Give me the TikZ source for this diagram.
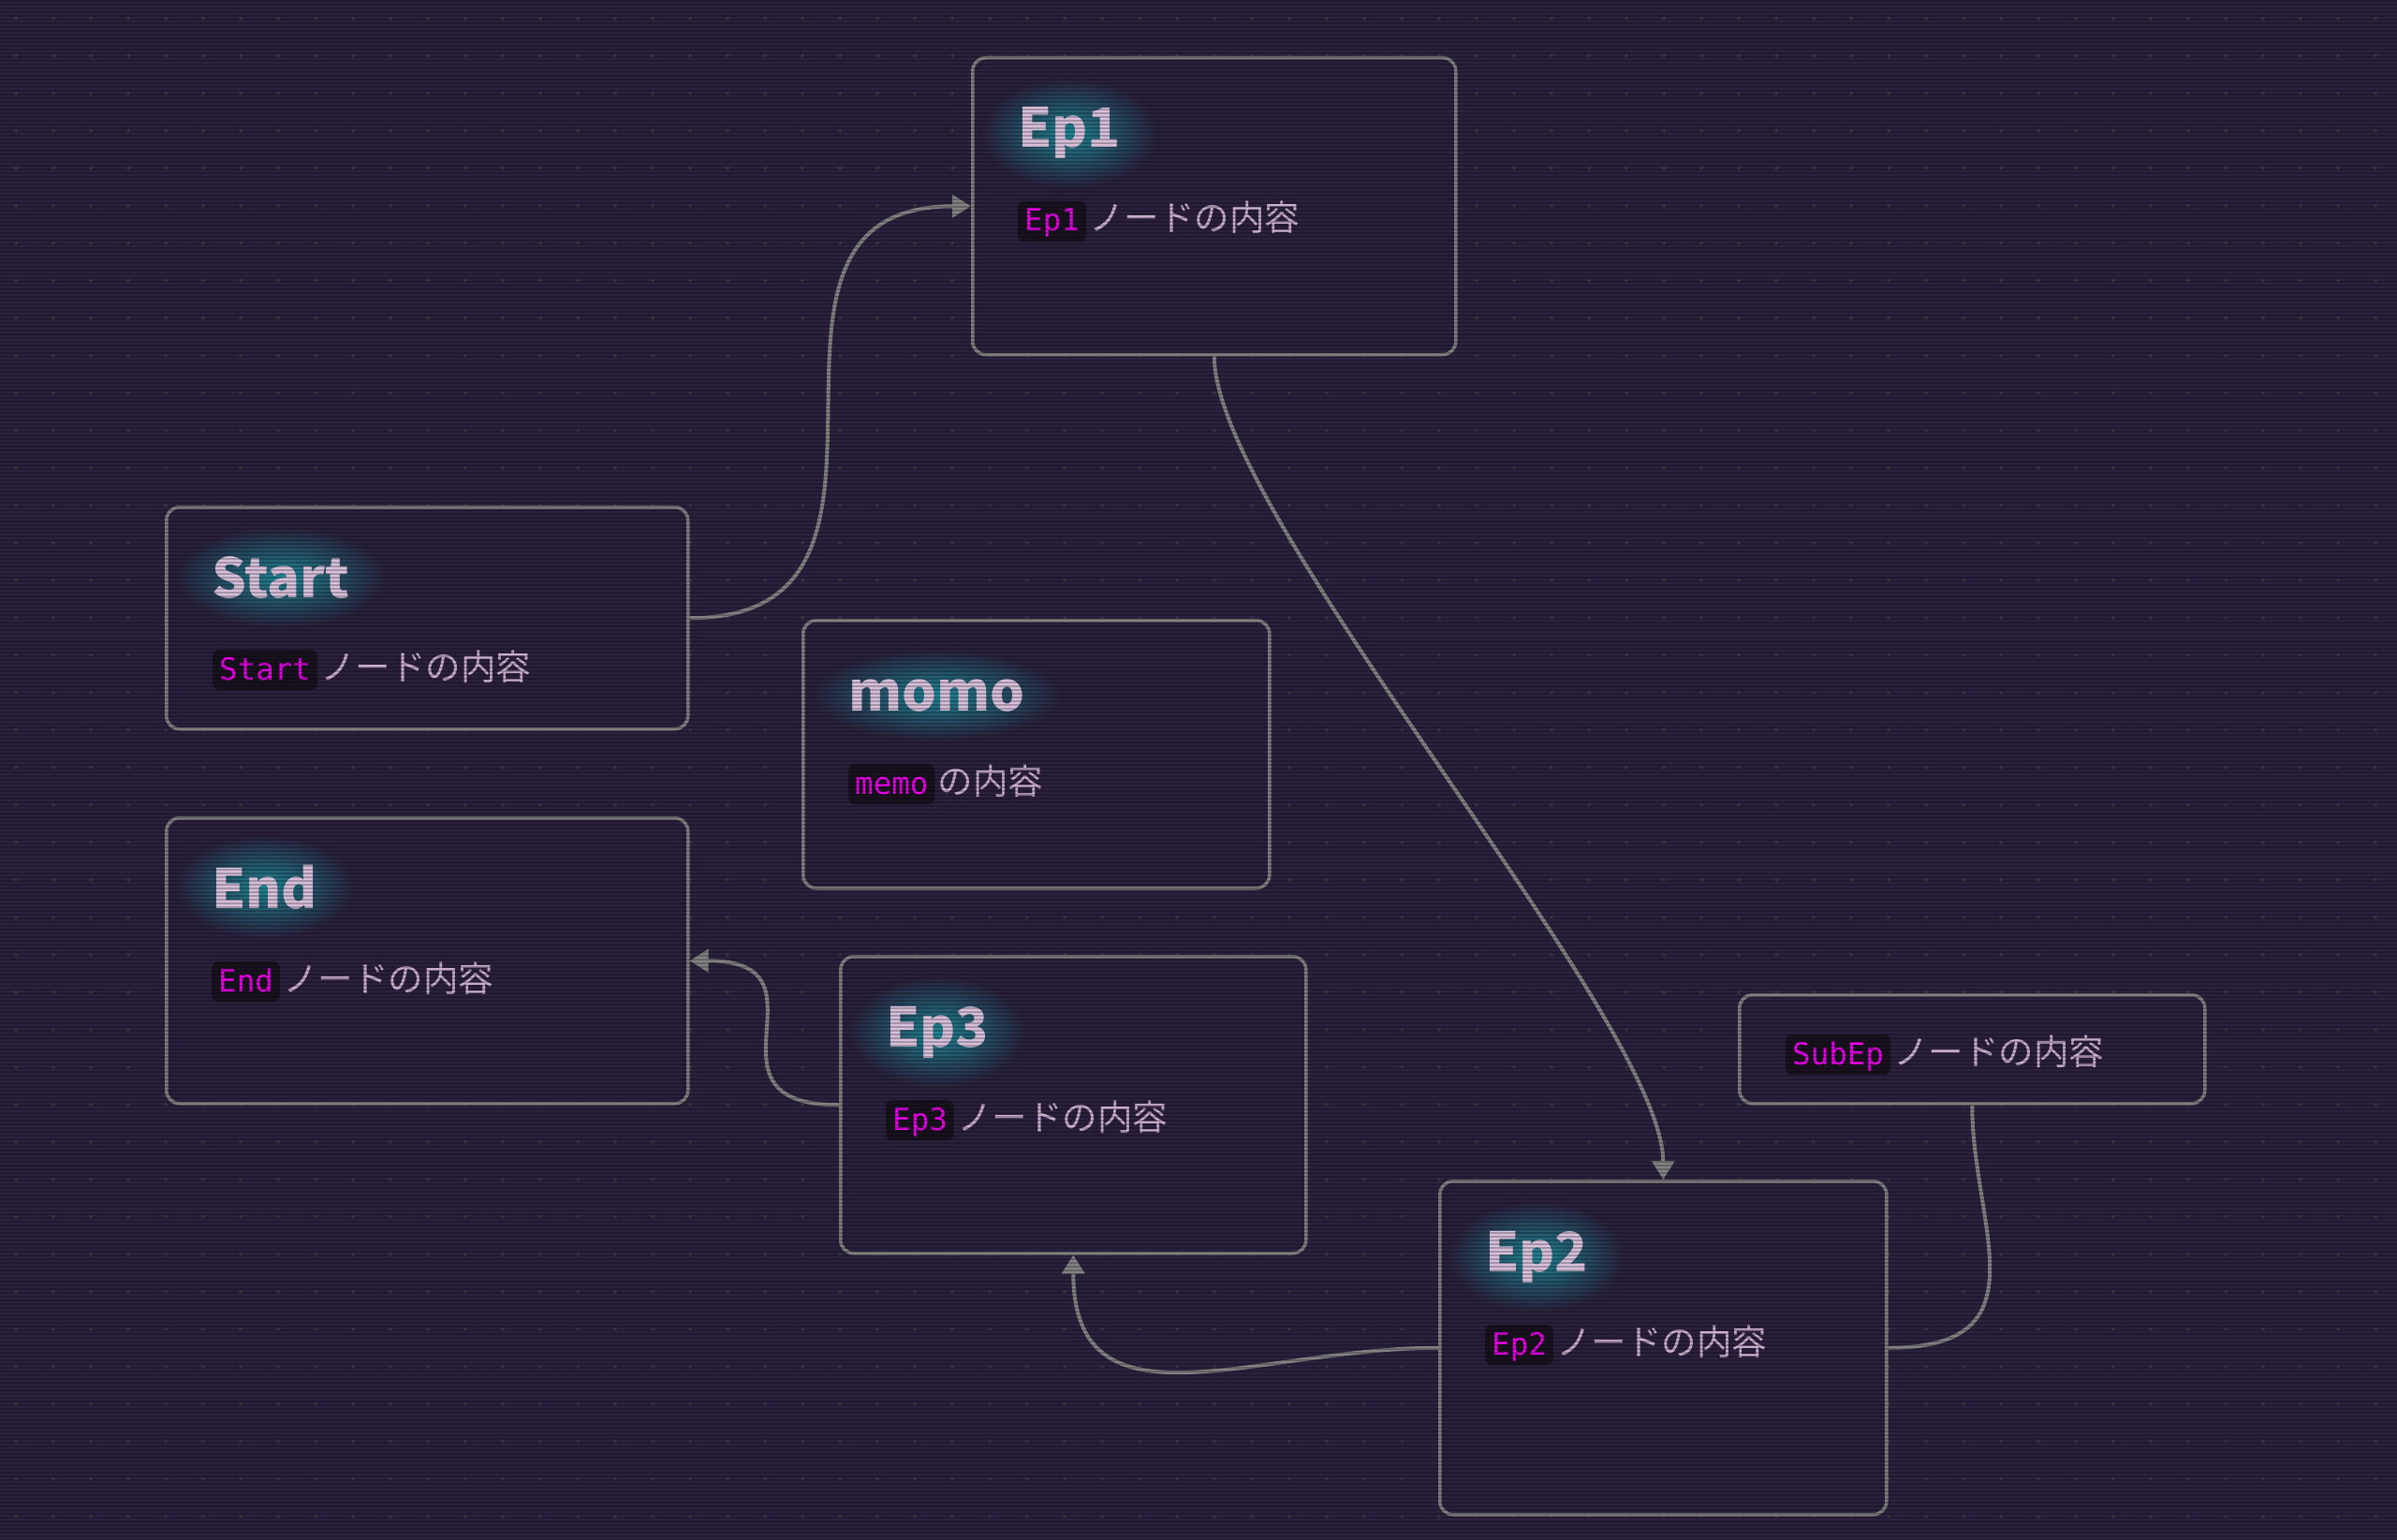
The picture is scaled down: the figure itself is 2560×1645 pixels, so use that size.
\documentclass[tikz,border=0pt]{standalone}
\usepackage{fontspec}
\setmainfont{Noto Sans CJK JP}
\newfontfamily\codefont{DejaVu Sans Mono}
\usetikzlibrary{arrows.meta,calc,fadings}
\definecolor{bgc}{HTML}{2D2240}
\definecolor{boxfill}{HTML}{2C213E}
\definecolor{edgec}{HTML}{828282}
\definecolor{linec}{HTML}{858585}
\definecolor{titlec}{HTML}{DCC4DE}
\definecolor{bodyc}{HTML}{CFB2D2}
\definecolor{codec}{HTML}{F600F6}
\definecolor{codebg}{HTML}{19121F}
\definecolor{glowc}{HTML}{1F95A3}
\definecolor{dotc}{HTML}{403E44}
\pgfdeclarelayer{back}
\pgfdeclarelayer{glowlayer}
\pgfdeclarelayer{scan}
\pgfsetlayers{back,glowlayer,main,scan}
\tikzfading[name=glowfade, inner color=transparent!0, outer color=transparent!100]
\tikzset{
  card/.style={draw=edgec, line width=3.5pt, fill=boxfill, rounded corners=14pt, inner sep=0pt, anchor=north west},
  cardtitle/.style={text=titlec, font=\fontsize{58}{58}\selectfont\bfseries, inner sep=0pt, anchor=base west},
  tag/.style={text=codec, fill=codebg, rounded corners=7pt, font=\codefont\fontsize{32.5}{32.5}\selectfont, inner xsep=7pt, inner ysep=5pt, text height=27pt, text depth=6pt, anchor=base west},
  bodytext/.style={text=bodyc, font=\fontsize{37.5}{37.5}\selectfont, inner sep=0pt, anchor=base west},
  conn/.style={draw=linec, line width=4pt},
  arr/.style={conn, -{Triangle[width=24pt,length=20pt]}}
}
\newcommand\glowat[1]{%
  \begin{pgfonlayer}{glowlayer}
  \fill[glowc, opacity=0.9, path fading=glowfade] let \p1=($(#1.north east)-(#1.south west)$) in (#1.center) ellipse ({abs(\x1)/2+40pt} and {abs(\y1)/2+32pt});
  \end{pgfonlayer}}
\begin{document}
\begin{tikzpicture}[x=1pt,y=-1pt]
\useasboundingbox (0,0) rectangle (2560,1645);
\begin{pgfonlayer}{back}
\fill[bgc] (0,0) rectangle (2560,1645);
\fill[dotc] \foreach \i in {0,...,63}{\foreach \j in {0,...,40}{({15.5+40*\i},{18.5+40*\j}) rectangle ++(3,3)}};
\node[card, minimum width=516pt, minimum height=317pt] (ep1) at (1037,60) {};
\node[card, minimum width=557pt, minimum height=237pt] (start) at (176,540) {};
\node[card, minimum width=498pt, minimum height=286pt] (momo) at (856,661) {};
\node[card, minimum width=557pt, minimum height=305pt] (end) at (176,872) {};
\node[card, minimum width=497pt, minimum height=317pt] (ep3) at (896,1020) {};
\node[card, minimum width=497pt, minimum height=116pt] (subep) at (1856,1061) {};
\node[card, minimum width=477pt, minimum height=356pt] (ep2) at (1536,1260) {};
\end{pgfonlayer}

% Ep1
\node[cardtitle] (ep1-title) at ($(ep1.north west)+(50,98)$) {Ep1};
\glowat{ep1-title}
\node[tag] (ep1-tag) at ($(ep1.north west)+(50,187)$) {Ep1};
\node[bodytext] (ep1-body) at ($(ep1-tag.base east)+(3,0)$) {ノードの内容};
% Start
\node[cardtitle] (start-title) at ($(start.north west)+(50,98)$) {Start};
\glowat{start-title}
\node[tag] (start-tag) at ($(start.north west)+(51,186)$) {Start};
\node[bodytext] (start-body) at ($(start-tag.base east)+(3,0)$) {ノードの内容};
% momo
\node[cardtitle] (momo-title) at ($(momo.north west)+(50,98)$) {momo};
\glowat{momo-title}
\node[tag] (momo-tag) at ($(momo.north west)+(50,187)$) {memo};
\node[bodytext] (momo-body) at ($(momo-tag.base east)+(3,0)$) {の内容};
% End
\node[cardtitle] (end-title) at ($(end.north west)+(50,98)$) {End};
\glowat{end-title}
\node[tag] (end-tag) at ($(end.north west)+(50,187)$) {End};
\node[bodytext] (end-body) at ($(end-tag.base east)+(3,0)$) {ノードの内容};
% Ep3
\node[cardtitle] (ep3-title) at ($(ep3.north west)+(50,98)$) {Ep3};
\glowat{ep3-title}
\node[tag] (ep3-tag) at ($(ep3.north west)+(50,187)$) {Ep3};
\node[bodytext] (ep3-body) at ($(ep3-tag.base east)+(3,0)$) {ノードの内容};
% Ep2
\node[cardtitle] (ep2-title) at ($(ep2.north west)+(50,98)$) {Ep2};
\glowat{ep2-title}
\node[tag] (ep2-tag) at ($(ep2.north west)+(50,187)$) {Ep2};
\node[bodytext] (ep2-body) at ($(ep2-tag.base east)+(3,0)$) {ノードの内容};
% SubEp
\node[tag] (subep-tag) at ($(subep.north west)+(51,76)$) {SubEp};
\node[bodytext] (subep-body) at ($(subep-tag.base east)+(3,0)$) {ノードの内容};

% connectors
\draw[arr] (start.east) .. controls +(285,0) and +(-285,0) .. (ep1.west);
\draw[arr] (ep1.south) .. controls +(0,170) and +(0,-170) .. (ep2.north);
\draw[arr] (ep2.west) .. controls +(-196,0) and +(0,196) .. (ep3.south);
\draw[arr] (ep3.west) .. controls +(-160,0) and +(160,0) .. (end.east);
\draw[conn] (subep.south) .. controls +(0,130) and +(170,0) .. (ep2.east);

\begin{pgfonlayer}{scan}
\fill[black, opacity=0.25] \foreach \k in {0,...,411}{(0,{4*\k}) rectangle (2560,{4*\k+2})};
\end{pgfonlayer}
\end{tikzpicture}
\end{document}
